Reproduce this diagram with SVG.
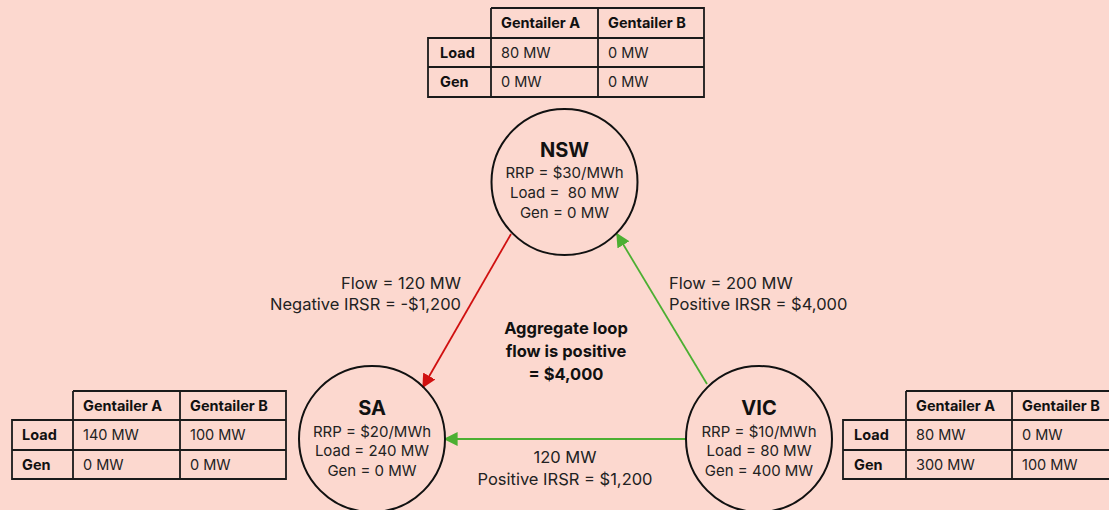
<svg xmlns="http://www.w3.org/2000/svg" width="1109" height="510" viewBox="0 0 1109 510">
<defs>
<style>
.bg{fill:#FCD8CF}
.tb{fill:none;stroke:#1a1a1a;stroke-width:1.8}
.th{font-family:Inter,"Liberation Sans",sans-serif;font-size:14.5px;font-weight:bold;fill:#111}
.td{font-family:Inter,"Liberation Sans",sans-serif;font-size:14.5px;fill:#222}
.node{fill:none;stroke:#111;stroke-width:2}
.nt{font-family:Inter,"Liberation Sans",sans-serif;font-size:20px;font-weight:bold;fill:#111;text-anchor:middle}
.nd{font-family:Inter,"Liberation Sans",sans-serif;font-size:15px;fill:#222;text-anchor:middle}
.lb{font-family:Inter,"Liberation Sans",sans-serif;font-size:16.5px;fill:#222}
.lbb{font-family:Inter,"Liberation Sans",sans-serif;font-size:16.5px;font-weight:bold;fill:#111;text-anchor:middle}
.red{stroke:#D01010;stroke-width:1.8;fill:none}
.grn{stroke:#4CAF32;stroke-width:1.8;fill:none}
</style>
<marker id="ar" viewBox="0 0 10 10" refX="9" refY="5" markerWidth="14" markerHeight="14" markerUnits="userSpaceOnUse" orient="auto"><path d="M0,0 L10,5 L0,10 z" fill="#D01010"/></marker>
<marker id="ag" viewBox="0 0 10 10" refX="9" refY="5" markerWidth="14" markerHeight="14" markerUnits="userSpaceOnUse" orient="auto"><path d="M0,0 L10,5 L0,10 z" fill="#4CAF32"/></marker>
</defs>
<rect class="bg" x="0" y="0" width="1109" height="510"/>

<g id="table-nsw">
<path class="tb" d="M491,8 H704 V97 H428 V38 H704 M491,8 V97 M598,8 V97 M428,67 H704"/>
<text class="th" x="501" y="28">Gentailer A</text>
<text class="th" x="608" y="28">Gentailer B</text>
<text class="th" x="440" y="58">Load</text>
<text class="th" x="440" y="87">Gen</text>
<text class="td" x="501" y="58">80 MW</text>
<text class="td" x="608" y="58">0 MW</text>
<text class="td" x="501" y="87">0 MW</text>
<text class="td" x="608" y="87">0 MW</text>
</g>

<g id="table-sa">
<path class="tb" d="M73,391 H286 V479 H12 V420 H286 M73,391 V479 M180,391 V479 M12,450 H286"/>
<text class="th" x="83" y="411">Gentailer A</text>
<text class="th" x="190" y="411">Gentailer B</text>
<text class="th" x="22" y="440">Load</text>
<text class="th" x="22" y="470">Gen</text>
<text class="td" x="83" y="440">140 MW</text>
<text class="td" x="190" y="440">100 MW</text>
<text class="td" x="83" y="470">0 MW</text>
<text class="td" x="190" y="470">0 MW</text>
</g>

<g id="table-vic">
<path class="tb" d="M906,391 H1120 V479 H843 V420 H1120 M906,391 V479 M1012,391 V479 M843,450 H1120"/>
<text class="th" x="916" y="411">Gentailer A</text>
<text class="th" x="1022" y="411">Gentailer B</text>
<text class="th" x="854" y="440">Load</text>
<text class="th" x="854" y="470">Gen</text>
<text class="td" x="916" y="440">80 MW</text>
<text class="td" x="1022" y="440">0 MW</text>
<text class="td" x="916" y="470">300 MW</text>
<text class="td" x="1022" y="470">100 MW</text>
</g>

<g id="connectors">
<line class="red" x1="511" y1="234" x2="423" y2="387" marker-end="url(#ar)"/>
<line class="grn" x1="707" y1="384" x2="617" y2="234" marker-end="url(#ag)"/>
<line class="grn" x1="686" y1="439" x2="445" y2="439" marker-end="url(#ag)"/>
</g>

<g id="node-nsw">
<circle class="node" cx="564.5" cy="182" r="73"/>
<text class="nt" x="564.5" y="157">NSW</text>
<text class="nd" x="564.5" y="178">RRP = $30/MWh</text>
<text class="nd" x="564.5" y="198" xml:space="preserve">Load =  80 MW</text>
<text class="nd" x="564.5" y="218">Gen = 0 MW</text>
</g>

<g id="node-sa">
<circle class="node" cx="372" cy="439" r="73"/>
<text class="nt" x="372" y="415">SA</text>
<text class="nd" x="372" y="437">RRP = $20/MWh</text>
<text class="nd" x="372" y="456">Load = 240 MW</text>
<text class="nd" x="372" y="476">Gen = 0 MW</text>
</g>

<g id="node-vic">
<circle class="node" cx="759" cy="439" r="73"/>
<text class="nt" x="759" y="415">VIC</text>
<text class="nd" x="759" y="437">RRP = $10/MWh</text>
<text class="nd" x="759" y="456">Load = 80 MW</text>
<text class="nd" x="759" y="476">Gen = 400 MW</text>
</g>

<g id="labels">
<text class="lb" x="461" y="289" text-anchor="end">Flow = 120 MW</text>
<text class="lb" x="461" y="310" text-anchor="end">Negative IRSR = -$1,200</text>
<text class="lb" x="669" y="289">Flow = 200 MW</text>
<text class="lb" x="669" y="310">Positive IRSR = $4,000</text>
<text class="lbb" x="566" y="334">Aggregate loop</text>
<text class="lbb" x="566" y="357">flow is positive</text>
<text class="lbb" x="566" y="380">= $4,000</text>
<text class="lb" x="565" y="463" text-anchor="middle">120 MW</text>
<text class="lb" x="565" y="485" text-anchor="middle">Positive IRSR = $1,200</text>
</g>
</svg>
